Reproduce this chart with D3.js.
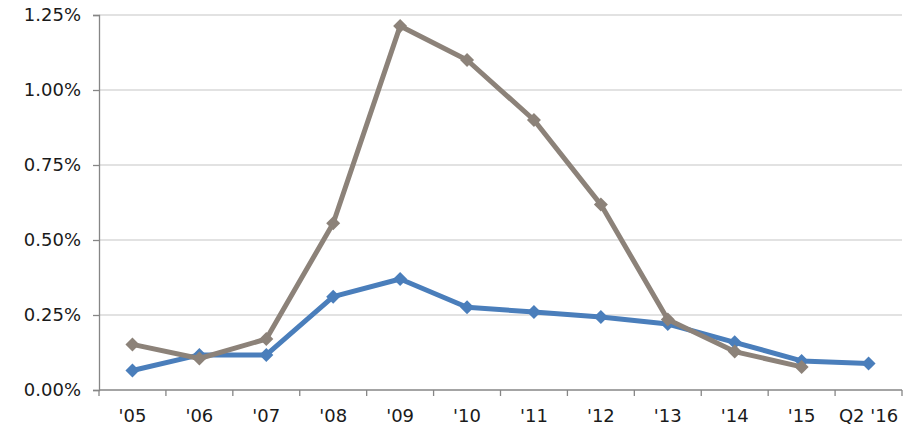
<!DOCTYPE html>
<html>
<head>
<meta charset="utf-8">
<script src="https://cdn.jsdelivr.net/npm/d3@7"></script>
<style>
  html, body { margin: 0; padding: 0; background: #fff; }
  svg { display: block; }
  text { font-family: "DejaVu Sans", Verdana, sans-serif; fill: #1a1a1a; }
</style>
</head>
<body>
<svg id="chart" width="916" height="428"></svg>
<script>
// Categories (years) along the x axis
const categories = ["'05", "'06", "'07", "'08", "'09", "'10", "'11", "'12", "'13", "'14", "'15", "Q2 '16"];
// Y tick values, in percent
const yTicks = [0, 0.25, 0.5, 0.75, 1.0, 1.25];
// Blue series (percent)
const seriesBlue = [0.065, 0.117, 0.117, 0.311, 0.37, 0.276, 0.26, 0.243, 0.22, 0.159, 0.097, 0.088];
// Taupe series (percent), no value for the last category
const seriesTaupe = [0.152, 0.105, 0.17, 0.556, 1.213, 1.10, 0.90, 0.618, 0.235, 0.128, 0.077, null];

const svg = d3.select("#chart");
const plotLeft = 99, plotRight = 902, plotTop = 15, plotBottom = 390;
const fontSize = 18;

const x = d3.scaleBand().domain(categories).range([plotLeft, plotRight]);
const y = d3.scaleLinear().domain([0, 1.25]).range([plotBottom, plotTop]);

// Horizontal gridlines
svg.append("g").selectAll("line").data(yTicks.filter(d => d > 0)).join("line")
  .attr("x1", plotLeft).attr("x2", plotRight)
  .attr("y1", d => y(d)).attr("y2", d => y(d))
  .attr("stroke", "#d9d9d9").attr("stroke-width", 1.5);

// Y axis
const yAxis = svg.append("g").attr("transform", `translate(${plotLeft},0)`)
  .call(d3.axisLeft(y).tickValues(yTicks).tickFormat(d => d.toFixed(2) + "%").tickSize(6).tickPadding(12));
yAxis.select(".domain").attr("stroke", "#868686").attr("stroke-width", 1.3);
yAxis.selectAll(".tick line").attr("stroke", "#868686").attr("stroke-width", 1.3);
yAxis.selectAll(".tick text").attr("font-size", fontSize).attr("fill", "#1a1a1a")
  .attr("font-family", "'DejaVu Sans', Verdana, sans-serif");

// X axis with ticks on band boundaries
const xg = svg.append("g").attr("transform", `translate(0,${plotBottom})`);
xg.append("line").attr("x1", plotLeft).attr("x2", plotRight).attr("y1", 0).attr("y2", 0)
  .attr("stroke", "#868686").attr("stroke-width", 1.3);
const bounds = categories.map(c => x(c)).concat([x(categories[categories.length - 1]) + x.bandwidth()]);
xg.selectAll("line.tk").data(bounds).join("line").attr("class", "tk")
  .attr("x1", d => d).attr("x2", d => d).attr("y1", 0).attr("y2", 6)
  .attr("stroke", "#868686").attr("stroke-width", 1.3);
xg.selectAll("text").data(categories).join("text")
  .attr("x", d => x(d) + x.bandwidth() / 2).attr("y", 32)
  .attr("text-anchor", "middle").attr("font-size", fontSize).text(d => d);

function drawSeries(values, color) {
  const pts = values.map((v, i) => ({ c: categories[i], v })).filter(d => d.v !== null);
  const line = d3.line().x(d => x(d.c) + x.bandwidth() / 2).y(d => y(d.v));
  svg.append("path").datum(pts).attr("d", line)
    .attr("fill", "none").attr("stroke", color).attr("stroke-width", 5)
    .attr("stroke-linejoin", "round");
  svg.append("g").selectAll("path").data(pts).join("path")
    .attr("d", d3.symbol(d3.symbolDiamond2, 125)())
    .attr("transform", d => `translate(${x(d.c) + x.bandwidth() / 2},${y(d.v)})`)
    .attr("fill", color);
}

drawSeries(seriesBlue, "#4a7ebb");
drawSeries(seriesTaupe, "#8c8279");
</script>
</body>
</html>
